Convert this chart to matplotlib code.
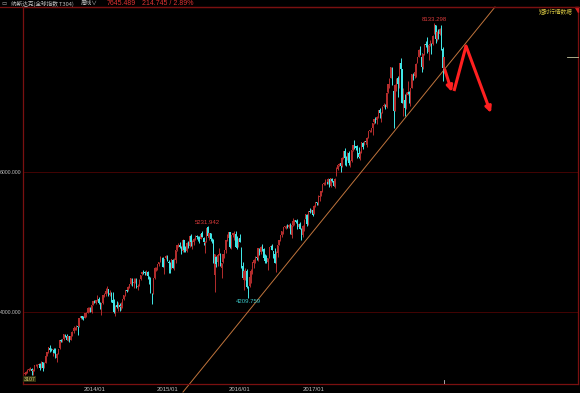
import numpy as np
import pandas as pd
import matplotlib.pyplot as plt
from matplotlib.patches import Polygon

plt.rcParams['font.family'] = ['Noto Sans CJK SC', 'DejaVu Sans']

# =============================================================================
# Weekly candles, Nasdaq composite, first week ends 2013-01-18
# =============================================================================
FIRST_WEEK = "2013-01-18"

week_open = [
    # 2013
    3125, 3137, 3150, 3175, 3192, 3195, 3155, 3168, 3241, 3244, 3246, 3268, 3208,
    3290, 3214, 3282, 3375, 3437, 3497, 3463, 3458, 3465, 3426, 3345, 3410, 3485,
    3600, 3591, 3619, 3683, 3668, 3602, 3655, 3603, 3665, 3726, 3770, 3755, 3800,
    3805, 3917, 3948, 3930, 3920, 3979, 3995, 4058, 4059, 4003, 4108, 4160,
    # 2014
    4135, 4171, 4197, 4110, 4110, 4128, 4238, 4267, 4280, 4330, 4254, 4280, 4169,
    4128, 4001, 4100, 4073, 4110, 4076, 4090, 4189, 4243, 4318, 4313, 4365, 4400,
    4482, 4425, 4435, 4450, 4358, 4380, 4472, 4543, 4585, 4578, 4568, 4572, 4508,
    4470, 4265, 4268, 4486, 4633, 4630, 4684, 4716, 4776, 4775, 4645, 4770, 4800,
    # 2015
    4722, 4700, 4640, 4750, 4630, 4743, 4895, 4957, 4962, 4925, 4875, 5027, 4900,
    4870, 4998, 4945, 5093, 5000, 5010, 5050, 5085, 5070, 5060, 5052, 5130, 5055,
    4990, 5015, 5215, 5075, 5130, 5050, 5040, 4530, 4795, 4725, 4818, 4780, 4630,
    4724, 4825, 4890, 5030, 5060, 5145, 4930, 5100, 5130, 5125, 4940, 4935, 5055,
    # 2016
    4897, 4660, 4460, 4580, 4590, 4345, 4370, 4500, 4580, 4700, 4740, 4790, 4770,
    4910, 4860, 4940, 4900, 4780, 4730, 4720, 4775, 4935, 4950, 4870, 4835, 4670,
    4850, 4960, 5030, 5100, 5160, 5220, 5230, 5240, 5225, 5255, 5100, 5250, 5290,
    5315, 5300, 5220, 5260, 5190, 5100, 5220, 5330, 5390, 5260, 5440, 5440, 5460,
    # 2017
    5410, 5515, 5570, 5560, 5650, 5665, 5730, 5840, 5850, 5865, 5860, 5900, 5810,
    5910, 5870, 5810, 5960, 6050, 6105, 6130, 6090, 6210, 6300, 6180, 6180, 6280,
    6150, 6160, 6315, 6390, 6370, 6350, 6280, 6225, 6270, 6420, 6400, 6450, 6400,
    6500, 6585, 6610, 6630, 6715, 6760, 6745, 6790, 6890, 6840, 6850, 6950, 6960,
    # 2018
    6938, 7140, 7270, 7340, 7490, 7160, 6880, 7240, 7350, 7240, 7560, 7470, 7050,
    7030, 6920, 7110, 7140, 7110, 7210, 7400, 7370, 7430, 7570, 7650, 7740, 7640,
    7500, 7690, 7830, 7830, 7720, 7820, 7830, 7830, 7990, 8100, 7910, 8000, 7980,
    8060, 7760, 7480,
]

week_high = [
    3142, 3165, 3184, 3198, 3213, 3203, 3185, 3248, 3260, 3265, 3270, 3275, 3300,
    3296, 3290, 3385, 3440, 3500, 3532, 3491, 3474, 3493, 3484, 3420, 3482, 3602,
    3616, 3613, 3694, 3692, 3684, 3659, 3666, 3688, 3730, 3798, 3788, 3820, 3804,
    3915, 3953, 3953, 3945, 3989, 3998, 4070, 4070, 4080, 4107, 4162, 4177,
    4177, 4246, 4219, 4141, 4127, 4245, 4283, 4342, 4371, 4338, 4321, 4293, 4286,
    4193, 4110, 4163, 4148, 4137, 4147, 4187, 4248, 4322, 4339, 4370, 4404, 4486,
    4485, 4485, 4486, 4485, 4400, 4470, 4540, 4581, 4598, 4595, 4610, 4584, 4512,
    4504, 4270, 4487, 4641, 4645, 4689, 4716, 4810, 4790, 4786, 4766, 4815, 4814,
    4746, 4715, 4766, 4765, 4780, 4894, 4957, 4989, 5008, 4941, 5042, 5040, 4950,
    5000, 5022, 5100, 5120, 5035, 5055, 5099, 5110, 5090, 5085, 5133, 5164, 5069,
    5020, 5211, 5231.942, 5135, 5140, 5055, 5050, 4835, 4803, 4830, 4917, 4850, 4708,
    4830, 4890, 5040, 5112, 5150, 5150, 5106, 5130, 5157, 5160, 5090, 5060, 5116,
    4935, 4720, 4600, 4630, 4615, 4370, 4540, 4616, 4720, 4760, 4806, 4820, 4920,
    4920, 4950, 4970, 4920, 4830, 4820, 4780, 4935, 4965, 4975, 4880, 4920, 4870,
    4960, 5040, 5105, 5166, 5225, 5240, 5250, 5260, 5260, 5282, 5250, 5342, 5320,
    5320, 5330, 5270, 5290, 5200, 5250, 5330, 5400, 5400, 5447, 5487, 5470, 5470,
    5536, 5577, 5580, 5670, 5670, 5735, 5840, 5867, 5911, 5880, 5915, 5910, 5920,
    5918, 5880, 5920, 6075, 6105, 6130, 6170, 6215, 6307, 6342, 6230, 6290, 6300,
    6170, 6315, 6390, 6460, 6380, 6390, 6360, 6310, 6440, 6430, 6450, 6470, 6500,
    6590, 6610, 6630, 6710, 6765, 6790, 6800, 6890, 6915, 6860, 6940, 6985, 6970,
    7140, 7262, 7340, 7506, 7500, 7240, 7260, 7340, 7380, 7565, 7637, 7480, 7200,
    7120, 7140, 7300, 7160, 7210, 7410, 7420, 7440, 7555, 7650, 7760, 7800, 7700,
    7690, 7830, 7870, 7933, 7815, 7890, 7850, 7960, 8133.298, 8110, 8020, 8040, 8060,
    8108, 7790, 7648,
]

week_low = [
    3107, 3124, 3140, 3158, 3181, 3110, 3108, 3160, 3232, 3210, 3221, 3180, 3200,
    3155, 3205, 3276, 3372, 3425, 3435, 3445, 3378, 3415, 3345, 3294, 3405, 3481,
    3573, 3571, 3598, 3641, 3601, 3593, 3578, 3601, 3660, 3711, 3748, 3750, 3677,
    3785, 3909, 3901, 3887, 3918, 3940, 3992, 4006, 3998, 3993, 4098, 4130,
    4112, 4163, 4124, 4050, 3968, 4125, 4225, 4240, 4275, 4239, 4240, 4143, 4117,
    3991, 3946, 4060, 4018, 4017, 4038, 4062, 4182, 4229, 4290, 4300, 4345, 4395,
    4372, 4352, 4419, 4351, 4322, 4375, 4468, 4540, 4548, 4537, 4528, 4474, 4400,
    4270, 4117, 4256, 4480, 4596, 4610, 4663, 4715, 4720, 4651, 4547, 4762, 4727,
    4563, 4563, 4614, 4628, 4602, 4700, 4880, 4940, 4921, 4836, 4860, 4865, 4860,
    4860, 4925, 4940, 4945, 4900, 4955, 5040, 5050, 5012, 4990, 5048, 5075, 4959,
    4850, 5010, 5080, 5040, 5020, 4991, 4705, 4292, 4653, 4660, 4815, 4660, 4487,
    4704, 4780, 4850, 5020, 5040, 4925, 4910, 5071, 5030, 4930, 4905, 4930, 5007,
    4640, 4476, 4313, 4460, 4350, 4209.759, 4360, 4420, 4545, 4640, 4710, 4750, 4740,
    4820, 4834, 4880, 4750, 4700, 4710, 4600, 4770, 4900, 4890, 4780, 4700, 4570,
    4795, 4960, 5020, 5080, 5125, 5200, 5195, 5200, 5210, 5125, 5065, 5230, 5250,
    5270, 5190, 5200, 5183, 5034, 5080, 5160, 5320, 5240, 5250, 5420, 5430, 5380,
    5400, 5500, 5530, 5530, 5590, 5660, 5725, 5820, 5820, 5835, 5840, 5790, 5795,
    5860, 5805, 5780, 5950, 6040, 6090, 6000, 6080, 6190, 6110, 6090, 6170, 6100,
    6080, 6150, 6310, 6330, 6320, 6200, 6210, 6175, 6270, 6340, 6390, 6410, 6360,
    6495, 6570, 6580, 6540, 6690, 6700, 6690, 6780, 6780, 6720, 6840, 6930, 6900,
    6920, 7130, 7200, 7340, 7240, 6631, 6870, 7160, 7070, 7200, 7470, 6990, 6805,
    6806, 6900, 7100, 6990, 6950, 7200, 7320, 7340, 7360, 7560, 7640, 7670, 7430,
    7470, 7680, 7790, 7700, 7600, 7810, 7690, 7820, 7980, 7850, 7880, 7900, 7960,
    7740, 7304, 7420,
]

week_close = [
    3135, 3150, 3179, 3194, 3192, 3162, 3170, 3244, 3249, 3245, 3268, 3204, 3295,
    3206, 3279, 3379, 3437, 3498, 3459, 3456, 3469, 3424, 3357, 3403, 3479, 3600,
    3588, 3613, 3690, 3660, 3603, 3658, 3590, 3660, 3722, 3775, 3782, 3808, 3792,
    3914, 3943, 3922, 3920, 3986, 3992, 4060, 4063, 4001, 4105, 4157, 4132,
    4175, 4198, 4128, 4104, 4126, 4244, 4263, 4308, 4336, 4245, 4277, 4156, 4128,
    4000, 4096, 4076, 4124, 4072, 4091, 4186, 4243, 4321, 4311, 4368, 4398, 4486,
    4416, 4432, 4450, 4353, 4371, 4465, 4539, 4580, 4583, 4568, 4580, 4512, 4476,
    4276, 4258, 4484, 4631, 4633, 4689, 4713, 4792, 4781, 4654, 4765, 4807, 4727,
    4704, 4634, 4758, 4635, 4744, 4894, 4956, 4964, 4927, 4872, 5026, 4891, 4887,
    4996, 4932, 5092, 5005, 5004, 5048, 5089, 5070, 5069, 5051, 5117, 5081, 5009,
    4998, 5210, 5089, 5128, 5044, 5048, 4706, 4828, 4684, 4822, 4827, 4687, 4708,
    4830, 4887, 5032, 5054, 5147, 4928, 5105, 5128, 5142, 4934, 4923, 5049, 5007,
    4644, 4488, 4591, 4614, 4363, 4338, 4504, 4591, 4717, 4749, 4796, 4774, 4915,
    4851, 4938, 4906, 4775, 4736, 4718, 4770, 4934, 4943, 4895, 4800, 4708, 4863,
    4957, 5030, 5100, 5162, 5221, 5233, 5238, 5219, 5250, 5126, 5245, 5306, 5312,
    5292, 5214, 5257, 5190, 5046, 5237, 5322, 5399, 5256, 5445, 5437, 5463, 5383,
    5521, 5574, 5555, 5661, 5667, 5734, 5839, 5845, 5871, 5862, 5901, 5829, 5912,
    5878, 5805, 5911, 6048, 6101, 6121, 6084, 6210, 6306, 6208, 6152, 6265, 6140,
    6153, 6313, 6388, 6375, 6352, 6257, 6217, 6266, 6435, 6360, 6449, 6427, 6496,
    6590, 6606, 6629, 6701, 6764, 6751, 6783, 6889, 6848, 6840, 6937, 6960, 6903,
    7137, 7261, 7336, 7506, 7241, 6875, 7240, 7337, 7258, 7561, 7482, 6993, 7063,
    6915, 7107, 7146, 7120, 7210, 7403, 7354, 7434, 7554, 7646, 7746, 7693, 7510,
    7688, 7826, 7820, 7737, 7812, 7839, 7816, 7946, 8110, 7903, 8010, 7987, 8046,
    7789, 7497, 7645.489,
]

# x-axis month labels, y-axis price labels
month_labels = ["2014/01", "2015/01", "2016/01", "2017/01"]
price_labels = [4000, 6000]

# weeks whose extreme is printed on the chart
marked_high_weeks = ["2015-07-24", "2018-08-31"]
marked_low_weeks = ["2016-02-12"]

# hand-drawn trend line and arrows (week index, price)
trend_x = [113.3, 336.5]
trend_y = [2861, 8361]
arrow1_x = [300.7, 305.7]
arrow1_y = [7461, 7147]
arrow2_x = [307.2, 315.8, 333.6]
arrow2_y = [7161, 7804, 6847]

header_name = "纳斯达克(全球指数 T304)"
header_period = "周线∨"
header_last = "7645.489"
header_change = "214.745 / 2.89%"
corner_text = "短时行情数据"

# =============================================================================
UP_COLOR = "#b42d2d"
DOWN_COLOR = "#40e8e8"
FRAME = "#7a1010"
GRID = "#440404"
TXT = "#c0c0c0"

o = np.array(week_open, dtype=float)
h = np.array(week_high, dtype=float)
l = np.array(week_low, dtype=float)
c = np.array(week_close, dtype=float)
n = len(c)
idx = np.arange(n)
dates = pd.date_range(FIRST_WEEK, periods=n, freq="W-FRI")

W, H = 580, 393
fig = plt.figure(figsize=(W / 100, H / 100), dpi=100, facecolor="black")
ax = fig.add_axes([23.3 / W, (H - 384) / H, (578 - 23.3) / W, (384 - 7.3) / H])
ax.set_facecolor("black")
ax.set_xlim(-0.93, 395.9)
ax.set_ylim(2976, 8357)

up = c >= o
colors = np.where(up, UP_COLOR, DOWN_COLOR)
ax.vlines(idx, l, h, colors=colors, lw=0.7, zorder=3)
body_lo = np.minimum(o, c)
body_h = np.maximum(np.abs(c - o), 4)
ax.bar(idx, body_h, bottom=body_lo, width=0.9, color=colors, lw=0, zorder=4)

# price grid
for p in price_labels:
    ax.axhline(p, color=GRID, lw=0.7, zorder=1)
    ax.annotate(f"{p:.3f}", (0, p), xycoords=("figure pixels", "data"),
                xytext=(21.5, 0), textcoords=("figure pixels", "offset points"),
                color=TXT, fontsize=3.7, family="Liberation Sans",
                ha="right", va="center", annotation_clip=False)

for sp in ax.spines.values():
    sp.set_color(FRAME)
    sp.set_linewidth(0.9)
ax.set_xticks([])
ax.set_yticks([])

# month labels below the frame
for lab in month_labels:
    yy, mm = lab.split("/")
    pos = np.where((dates.year == int(yy)) & (dates.month == int(mm)))[0][0]
    ax.text(pos, -0.0135, lab, color=TXT, fontsize=4.3, family="Liberation Sans",
            ha="center", va="center", transform=ax.get_xaxis_transform(), clip_on=False)

# current-week marker on bottom edge
ax.plot([n - 1, n - 1], [2976, 2976 + 55], color=TXT, lw=0.6, zorder=5)

# extreme labels
for d in marked_high_weeks:
    i = np.where(dates == pd.Timestamp(d))[0][0]
    ax.annotate(f"{h[i]:.3f}", (i, h[i]), xytext=(0, 1.0), textcoords="offset points",
                color="#d83a3a", fontsize=4.3, family="Liberation Sans",
                ha="center", va="bottom")
for d in marked_low_weeks:
    i = np.where(dates == pd.Timestamp(d))[0][0]
    ax.annotate(f"{l[i]:.3f}", (i, l[i]), xytext=(0, -0.8), textcoords="offset points",
                color="#3cc8c8", fontsize=4.3, family="Liberation Sans",
                ha="center", va="top")
# lowest low on screen, bottom-left
i_min = int(np.argmin(l))
ax.annotate(f"{l[i_min]:.0f}", (i_min, l[i_min]), xytext=(-0.5, -1.5), textcoords="offset points",
            color="#d8d070", fontsize=3.8, family="Liberation Sans", ha="left", va="top",
            bbox=dict(boxstyle="square,pad=0.1", fc="#303010", ec="none"))

# trend line
ax.plot(trend_x, trend_y, color="#c0743c", lw=0.7, zorder=2, clip_on=False)

# red arrows
RED = "#ff2020"
ax.annotate("", xy=(arrow1_x[1], arrow1_y[1]), xytext=(arrow1_x[0], arrow1_y[0]),
            arrowprops=dict(arrowstyle="-|>", color=RED, lw=2.2, mutation_scale=8.5,
                            shrinkA=0, shrinkB=0), zorder=6)
ax.plot(arrow2_x[:2], arrow2_y[:2], color=RED, lw=2.2, zorder=6, solid_capstyle="butt")
ax.annotate("", xy=(arrow2_x[2], arrow2_y[2]), xytext=(arrow2_x[1], arrow2_y[1]),
            arrowprops=dict(arrowstyle="-|>", color=RED, lw=2.2, mutation_scale=8.5,
                            shrinkA=0, shrinkB=0), zorder=6)

# last price marker on the right edge
ax.plot([388, 395.9], [c[-1], c[-1]], color="#c8c8a0", lw=0.6, zorder=5, clip_on=False)

# header
fig.add_artist(plt.Line2D([0, 1], [(H - 7.3) / H] * 2, color=FRAME, lw=0.9))
fig.add_artist(Polygon([[574.5 / W, (H - 7.3) / H], [578 / W, (H - 7.3) / H],
                        [578 / W, (H - 12) / H]], closed=True, color="#d02020",
                       transform=fig.transFigure))
hy = (H - 3.8) / H
fig.text(2 / W, hy, "▭", color="#a0a0a0", fontsize=4, va="center")
fig.text(11 / W, hy, header_name, color=TXT, fontsize=4.1, va="center")
fig.text(81 / W, hy, header_period, color=TXT, fontsize=4.1, va="center")
fig.text(107 / W, hy, header_last, color="#e03232", fontsize=5,
         family="Liberation Sans", va="center")
fig.text(142 / W, hy, header_change, color="#e03232", fontsize=5,
         family="Liberation Sans", va="center")
fig.text(573 / W, (H - 12.5) / H, corner_text, color="#d0c040", fontsize=4.1,
         ha="right", va="center")

fig.savefig("out.png", dpi=100, facecolor="black")
